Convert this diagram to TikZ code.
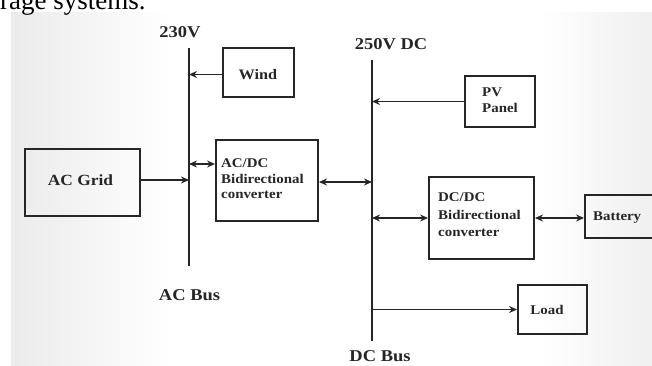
\documentclass[tikz,border=0pt]{standalone}
\usepackage{fontspec}
\setmainfont{Liberation Serif}
\usetikzlibrary{arrows.meta}
\newcommand{\wx}[1]{\scalebox{1.12}[1]{#1}}
\begin{document}
\begin{tikzpicture}[x=1pt,y=-1pt,
  box/.style={draw=black!85,line width=1.9pt,inner sep=0pt},
  bus/.style={line width=2.4pt,draw=black!85},
  conn/.style={line width=1.9pt,draw=black!85,-{Stealth[length=8pt,width=7pt]}},
  bconn/.style={line width=1.9pt,draw=black!85,{Stealth[length=8pt,width=7pt]}-{Stealth[length=8pt,width=7pt]}},
  txt/.style={font=\fontsize{13.3}{15}\selectfont\bfseries,inner sep=0pt,text=black!85},
  btxt/.style={font=\fontsize{16.5}{18}\selectfont\bfseries,inner sep=0pt,text=black!85}]
\clip (0,0) rectangle (652,365);
\useasboundingbox (0,0) rectangle (652,365);
% background panel
\fill[white] (11,12) rectangle (652,365);
\shade[left color=gray!16,right color=white] (11,12) rectangle (170,365);
\shade[left color=white,right color=gray!12] (540,12) rectangle (652,365);
% partial text at top
\node[anchor=base west,inner sep=0pt,font=\fontsize{27}{30}\selectfont] (top) at (0,9) {rage systems.};
% buses
\coordinate (acT) at (189,48);
\coordinate (acB) at (189,266);
\coordinate (dcT) at (372,60);
\coordinate (dcB) at (372,341);
\draw[bus] (acT) -- (acB);
\draw[bus] (dcT) -- (dcB);
\node[btxt] (v230) at (180,32) {\wx{230V}};
\node[btxt] (v250) at (391,44) {\wx{250V DC}};
\node[btxt] (acbus) at (189.5,295) {\wx{AC Bus}};
\node[btxt] (dcbus) at (380,356) {\wx{DC Bus}};
% boxes
\node[box,minimum width=71pt,minimum height=49pt] (wind) at (258.5,72.5) {};
\node[box,minimum width=115pt,minimum height=67pt] (grid) at (82.5,182.5) {};
\node[box,minimum width=102pt,minimum height=81pt] (acdc) at (267,180.5) {};
\node[box,minimum width=70pt,minimum height=51pt] (pv) at (500,101.5) {};
\node[box,minimum width=105pt,minimum height=82pt] (dcdc) at (481.5,218) {};
\node[box,minimum width=75pt,minimum height=43pt] (batt) at (622.5,216.5) {};
\node[box,minimum width=69pt,minimum height=49pt] (load) at (552.5,309.5) {};
% texts
\node[txt,font=\fontsize{14.5}{15}\selectfont\bfseries] (twind) at (258,75) {\wx{Wind}};
\node[txt,font=\fontsize{15.5}{16}\selectfont\bfseries] (tgrid) at (80.5,180) {\wx{AC Grid}};
\node[txt,anchor=west] (tacdc1) at (221,163) {\wx{AC/DC}};
\node[txt,anchor=west] (tacdc2) at (221,179) {\wx{Bidirectional}};
\node[txt,anchor=west] (tacdc3) at (221,195) {\wx{converter}};
\node[txt,anchor=west] (tpv1) at (482,92) {\wx{PV}};
\node[txt,anchor=west] (tpv2) at (482,108) {\wx{Panel}};
\node[txt,anchor=west] (tdc1) at (438,197) {\wx{DC/DC}};
\node[txt,anchor=west] (tdc2) at (438,215) {\wx{Bidirectional}};
\node[txt,anchor=west] (tdc3) at (438,233) {\wx{converter}};
\node[txt,anchor=west] (tbatt) at (593,218) {\wx{Battery}};
\node[txt] (tload) at (547,309.5) {\wx{Load}};
% connectors
\draw[conn] ([yshift=-2pt]wind.west) -- ([yshift=-2pt]wind.west -| acT);
\draw[conn] ([yshift=2.5pt]grid.east) -- ([yshift=2.5pt]grid.east -| acT);
\draw[bconn] ([yshift=16.5pt]acdc.west -| acT) -- ([yshift=16.5pt]acdc.west);
\draw[bconn] ([yshift=-1.5pt]acdc.east) -- ([yshift=-1.5pt]acdc.east -| dcT);
\draw[conn] (pv.west) -- (pv.west -| dcT);
\draw[bconn] (dcdc.west -| dcT) -- (dcdc.west);
\draw[bconn] (dcdc.east) -- (dcdc.east -| batt.west);
\draw[conn] (load.west -| dcT) -- (load.west);
\end{tikzpicture}
\end{document}
